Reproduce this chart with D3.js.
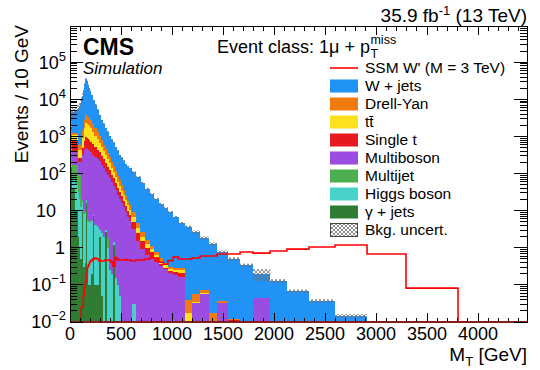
<!DOCTYPE html>
<html>
<head>
<meta charset="utf-8">
<script src="https://cdn.jsdelivr.net/npm/d3@7"></script>
<style>
  body { margin: 0; background: #fff; }
  svg { font-family: "Liberation Sans", Arial, Helvetica, sans-serif; }
</style>
</head>
<body>
<svg id="chart" width="540" height="370"></svg>
<script>
// M_T bin edges (GeV), values are events / 10 GeV
var binEdges = [0,10,20,30,40,50,60,70,80,90,100,110,120,130,140,150,160,170,180,190,200,
    220,240,260,280,300,320,340,360,380,400,420,440,460,480,500,520,540,560,580,600,
    645,690,735,780,825,870,915,960,1010,1063,1127,
    1196,1275,1363,1441,1549,1667,1794,1961,2127,2343,2598,2912,3294,3804,4480];

var wjets = [2130,2300,3330,3330,3630,3630,3940,4270,5270,6050,7410,8140,10860,15100,22200,31700,27500,20800,16900,13600,
    10400,7500,5400,3870,2775,2000,1565,1234,961,753,598,513,404,319,252,215,183,155,141,128,
    101,76,53,37,27,20,14.7,11.4,8.9,6.5,4.4,
    3.56,2.61,1.77,1.24,0.73,0.49,0.34,0.152,0.127,0.068,0.037,0.0145,0,0,0];
var drellYan = [130,100,145,145,145,145,145,145,157,157,157,584,584,1092,1489,1489,1489,1400,1316,1237,
    1035,792,612,472,361,273,203,153,115,86,64,47,35.5,25.9,18.3,13.1,9.2,6.5,4.6,3.9,
    2.4,1.24,0.67,0.36,0.21,0.13,0.072,0.045,0.035,0.034,0.034,
    0.0215,0.0215,0.016,0.018,0.004,0.001,0,0.0005];
var ttbar = [120,100,292,292,292,292,292,292,170,170,170,422,422,937,1343,1343,1343,1261,1185,1114,
    939,701,530,397,291,218,162,121,91,68,49,34,24.6,18.8,14.6,10.8,8.1,5.7,4.3,2.7,
    1.76,0.91,0.51,0.28,0.16,0.11,0.077,0.051,0.032,0.029,0.043,
    0.0175,0.002,0.001];
var singleTop = [225,200,423,423,423,423,423,423,58,58,58,173,173,324,479,479,479,452,424,399,
    351,289,239,198,161,128,99,78,61,48,36,28,21,14.8,11.1,8.2,5.9,4.2,3.1,2.4,
    1.63,0.94,0.56,0.36,0.22,0.11,0.043,0.026,0.025,0.038,0.046,
    0,0.001,0.001,0,0.0003,0.011];
var multiboson = [200,200,211,211,211,211,211,211,113,113,113,302,304,425,483,472,469,456,430,404,
    368,315,278,243,209,173,139,110,90,75,58,45,35.5,27.1,21.2,16,12.3,9.1,6.8,5.3,
    3.2,1.57,0.93,0.64,0.53,0.41,0.33,0.26,0.215,0.185,0.163,
    0,0.0325,0.057,0,0.0325,0,0,0.044];
var multijet = [1280,1230,100,100,100,120,120,120,60,71,80,5,3,2,1,1,1,0.5,0.5,0.3,
    0.3,0,0,0,0,0,0,0,0.8];
var higgs = [20,20,30,30,30,40,40,40,30,20,12,8,8,8,8,3,4,5,5,5,
    5,0.5,4,3.5,1,2.5,2,0.3,1,0.25,0.2,0.2,0.15,0.1,0.05,0,0,0,0,0,
    0.03];
var gammaJets = [200,150,40,40,40,10,10,10,2,1,0.5,9,9,0.3,0.4,16,16,0.2,0.1,0.1,
    0.2,7,0.1,0.1,2,0.05,0,2.7,0,0,0,1.2];
var signalWprime = [0,0,0,0,0,0,0,0,0,0,0,0.025,0.025,0.05,0.09,0.12,0.2,0.3,0.35,0.4,
    0.45,0.5,0.53,0.5,0.45,0.44,0.44,0.47,0.47,0.46,0.41,0.32,0.55,0.48,0.47,0.47,0.47,0.48,0.47,0.47,
    0.44,0.47,0.47,0.5,0.53,0.53,0.41,0.36,0.45,0.56,0.5,
    0.5,0.53,0.6,0.6,0.68,0.68,0.77,0.72,0.82,0.92,1.05,1.19,0.68,0.082,0];
// relative background uncertainty per bin
var bkgUncert = [0.3,0.3,0.3,0.3,0.3,0.3,0.3,0.3,0.3,0.3,0.3,0.2,0.2,
    0.07,0.07,0.07,0.07,0.07,0.07,0.07,
    0.07,0.07,0.07,0.07,0.07,0.07,0.07,0.07,0.07,0.07,0.07,0.07,0.07,0.07,0.07,0.07,0.07,0.07,0.07,0.07,
    0.07,0.07,0.07,0.07,0.07,0.07,0.07,0.07,0.07,0.07,0.07,
    0.1,0.1,0.1,0.1,0.1,0.1,0.1,0.35,0.12,0.1,0.1,0.12,0,0,0];

var xTicks = [0,500,1000,1500,2000,2500,3000,3500,4000];
var yDecades = [-2,-1,0,1,2,3,4,5];

// stacking order, bottom first
var stackKeys = ['gjets','higgs','multijet','multiboson','singlet','ttbar','dy','wjets'];
var stackColors = {gjets:'#2f7c32', higgs:'#47d1c9', multijet:'#4cae4f', multiboson:'#9a4de0',
    singlet:'#e5191f', ttbar:'#fde11f', dy:'#f07a0c', wjets:'#2193f7'};
var legendLabels = ["SSM W' (M = 3 TeV)", 'W + jets', 'Drell-Yan', 'tt\u0304', 'Single t', 'Multiboson',
    'Multijet', 'Higgs boson', '\u03b3 + jets', 'Bkg. uncert.'];
var legendKeys = ['signal','wjets','dy','ttbar','singlet','multiboson','multijet','higgs','gjets','uncert'];

function drawChart() {
    var nBins = binEdges.length - 1;
    var series = {gjets:gammaJets, higgs:higgs, multijet:multijet, multiboson:multiboson,
        singlet:singleTop, ttbar:ttbar, dy:drellYan, wjets:wjets};

    var rows = [];
    for (var i = 0; i < nBins; i++) {
        var r = {idx: i, lo: binEdges[i], hi: binEdges[i + 1]};
        stackKeys.forEach(function (k) { r[k] = series[k][i] || 0; });
        rows.push(r);
    }

    var svg = d3.select('#chart');
    var padL = 70, padR = 527, padT = 26, padB = 322;
    var yMin = 0.01, yMax = 9.5e5;
    var x = d3.scaleLinear().domain([0, 4480]).range([padL, padR]);
    var y = d3.scaleLog().domain([yMin, yMax]).range([padB, padT]);
    function yc(v) { return y(Math.max(v, yMin)); }

    var defs = svg.append('defs');
    defs.append('clipPath').attr('id', 'plotclip')
        .append('rect').attr('x', padL).attr('y', padT).attr('width', padR - padL).attr('height', padB - padT);
    var pat = defs.append('pattern').attr('id', 'hatch').attr('patternUnits', 'userSpaceOnUse')
        .attr('width', 4).attr('height', 4);
    pat.append('path').attr('d', 'M0,0 L4,4 M4,0 L0,4').attr('stroke', '#6e6e6e').attr('stroke-width', 0.8);

    var plot = svg.append('g').attr('clip-path', 'url(#plotclip)');

    // stacked backgrounds
    var stacked = d3.stack().keys(stackKeys)(rows);
    stacked.forEach(function (s) {
        plot.append('g').attr('fill', stackColors[s.key]).attr('shape-rendering', 'crispEdges')
            .selectAll('rect').data(s.filter(function (d) { return d[1] > yMin && d[1] > d[0]; }))
            .enter().append('rect')
            .attr('x', function (d) { return x(d.data.lo); })
            .attr('width', function (d) { return x(d.data.hi) - x(d.data.lo) + 0.3; })
            .attr('y', function (d) { return yc(d[1]); })
            .attr('height', function (d) { return yc(d[0]) - yc(d[1]); });
    });

    // uncertainty band
    var totals = stacked[stacked.length - 1].map(function (d) { return d[1]; });
    plot.append('g').selectAll('rect')
        .data(rows.filter(function (d) { return totals[d.idx] > 0 && bkgUncert[d.idx] > 0; }))
        .enter().append('rect')
        .attr('x', function (d) { return x(d.lo); })
        .attr('width', function (d) { return x(d.hi) - x(d.lo); })
        .attr('y', function (d) { return yc(totals[d.idx] * (1 + bkgUncert[d.idx])); })
        .attr('height', function (d) {
            return yc(totals[d.idx] * (1 - bkgUncert[d.idx])) - yc(totals[d.idx] * (1 + bkgUncert[d.idx]));
        })
        .attr('fill', 'url(#hatch)');

    // signal histogram as a step line
    var sigPts = [];
    rows.forEach(function (d) {
        sigPts.push([x(d.lo), yc(signalWprime[d.idx])]);
        sigPts.push([x(d.hi), yc(signalWprime[d.idx])]);
    });
    plot.append('path').attr('d', d3.line()(sigPts)).attr('fill', 'none')
        .attr('stroke', '#ff0000').attr('stroke-width', 1.6);

    // frame and ticks
    var axes = svg.append('g').attr('stroke', '#000').attr('stroke-width', 1).attr('shape-rendering', 'crispEdges');
    axes.append('rect').attr('x', padL).attr('y', padT).attr('width', padR - padL).attr('height', padB - padT)
        .attr('fill', 'none');
    // empty histogram bins sit on the bottom edge, which then looks dark red
    axes.append('line').attr('x1', padL).attr('x2', padR).attr('y1', padB).attr('y2', padB)
        .attr('stroke', '#8a1c1c').attr('stroke-width', 1.5);
    for (var t = 0; t <= 4400; t += 100) {
        var len = (t % 500 === 0) ? 9 : 4.5;
        axes.append('line').attr('x1', x(t)).attr('x2', x(t)).attr('y1', padB).attr('y2', padB - len);
        axes.append('line').attr('x1', x(t)).attr('x2', x(t)).attr('y1', padT).attr('y2', padT + len);
    }
    yDecades.forEach(function (e) {
        for (var m = 1; m <= 9; m++) {
            var v = m * Math.pow(10, e);
            if (v > yMax) return;
            var tl = (m === 1) ? 13 : 7;
            axes.append('line').attr('x1', padL).attr('x2', padL + tl).attr('y1', y(v)).attr('y2', y(v));
            axes.append('line').attr('x1', padR).attr('x2', padR - tl).attr('y1', y(v)).attr('y2', y(v));
        }
    });

    // tick labels
    svg.append('g').selectAll('text').data(xTicks).enter().append('text')
        .attr('x', function (d) { return x(d); }).attr('y', 340)
        .attr('text-anchor', 'middle').style('font-size', '18px').text(function (d) { return d; });

    yDecades.forEach(function (e) {
        var lab = svg.append('text').attr('y', y(Math.pow(10, e))).attr('dy', '0.36em')
            .attr('text-anchor', 'end').style('font-size', '18px');
        if (e === 0) {
            lab.attr('x', 65).text('1');
        } else if (e === 1) {
            lab.attr('x', 56).text('10');
        } else {
            lab.attr('x', 66);
            lab.append('tspan').text('10');
            lab.append('tspan').attr('dy', -8).style('font-size', '13px').text(e < 0 ? '\u2212' + (-e) : e);
        }
    });

    // axis titles
    var xt = svg.append('text').attr('x', 527).attr('y', 361).attr('text-anchor', 'end').style('font-size', '19px');
    xt.append('tspan').text('M');
    xt.append('tspan').attr('dy', 5).style('font-size', '13px').text('T');
    xt.append('tspan').attr('dy', -5).text(' [GeV]');

    svg.append('text').attr('transform', 'translate(28,25) rotate(-90)').attr('text-anchor', 'end')
        .style('font-size', '19px').text('Events / 10 GeV');

    // header texts
    var lumi = svg.append('text').attr('x', 527).attr('y', 22).attr('text-anchor', 'end').style('font-size', '19px');
    lumi.append('tspan').text('35.9 fb');
    lumi.append('tspan').attr('dy', -7).style('font-size', '13px').text('-1');
    lumi.append('tspan').attr('dy', 7).text(' (13 TeV)');

    svg.append('text').attr('x', 83).attr('y', 55).style('font-size', '23px').style('font-weight', 'bold').text('CMS');
    svg.append('text').attr('x', 83).attr('y', 74).style('font-size', '17px').style('font-style', 'italic').text('Simulation');

    var ev = svg.append('text').attr('x', 217).attr('y', 53).style('font-size', '18px').text('Event class: 1\u03bc + p');
    var evEnd = 217 + ev.node().getComputedTextLength() + 0.5;
    svg.append('text').attr('x', evEnd).attr('y', 44).style('font-size', '12.5px').text('miss');
    svg.append('text').attr('x', evEnd).attr('y', 58).style('font-size', '12.5px').text('T');

    // legend
    var leg = svg.append('g');
    legendKeys.forEach(function (k, i) {
        var cy = 68 + 18 * i;
        if (k === 'signal') {
            leg.append('line').attr('x1', 330).attr('x2', 358).attr('y1', cy).attr('y2', cy)
                .attr('stroke', '#ff0000').attr('stroke-width', 1.6);
        } else if (k === 'uncert') {
            leg.append('rect').attr('x', 330.5).attr('y', cy - 6.5).attr('width', 27).attr('height', 13)
                .attr('fill', 'url(#hatch)').attr('stroke', '#444').attr('stroke-width', 1);
        } else {
            leg.append('rect').attr('x', 330).attr('y', cy - 6.5).attr('width', 28).attr('height', 13)
                .attr('fill', stackColors[k]);
        }
        leg.append('text').attr('x', 365).attr('y', cy).attr('dy', '0.35em')
            .style('font-size', '15.5px').text(legendLabels[i]);
    });
}

drawChart();
</script>
</body>
</html>
